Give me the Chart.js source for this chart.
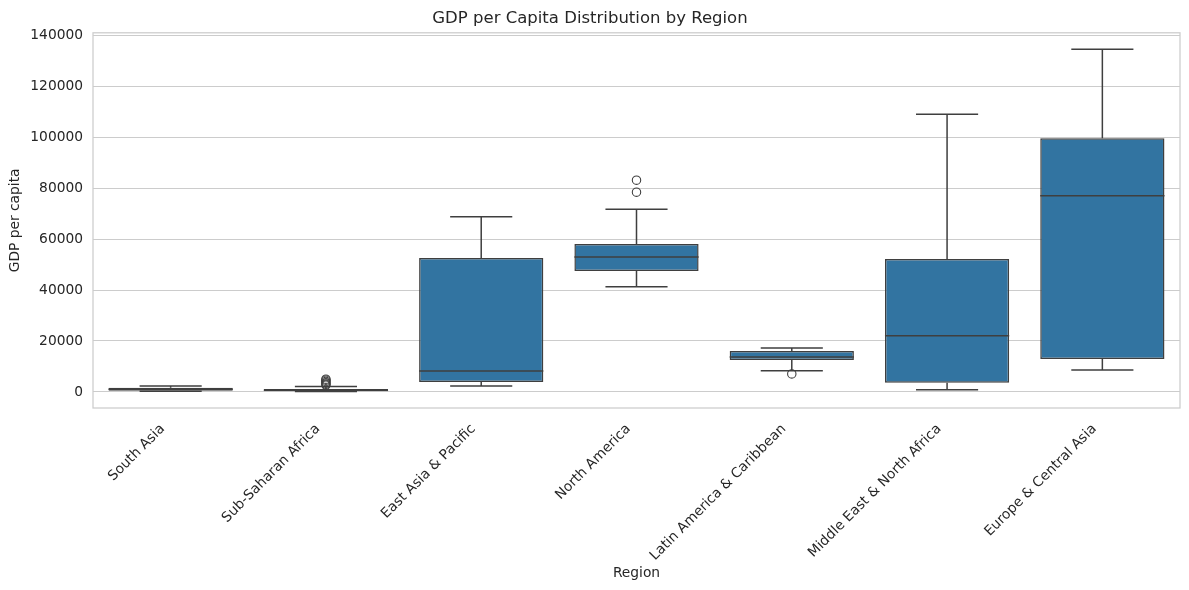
<!DOCTYPE html>
<html>
<head>
<meta charset="utf-8">
<script src="https://cdn.jsdelivr.net/npm/chart.js@4.4.1/dist/chart.umd.min.js"></script>
<style>
html,body{margin:0;padding:0;background:#fff;}
#wrap{width:1189px;height:590px;position:relative;}
</style>
</head>
<body>
<div id="wrap"><canvas id="c" width="1189" height="590"></canvas></div>
<script>
const categories = ["South Asia","Sub-Saharan Africa","East Asia & Pacific","North America","Latin America & Caribbean","Middle East & North Africa","Europe & Central Asia"];
const whiskerLow  = [250, 150, 2350, 41300, 8350, 900, 8630];
const q1          = [450, 300, 3920, 47460, 12550, 3650, 12940];
const median      = [1050, 650, 8240, 52950, 13730, 22080, 77000];
const q3          = [1650, 1200, 52550, 58050, 16080, 52160, 99600];
const whiskerHigh = [2350, 2100, 68750, 71770, 17260, 109000, 134500];
const outlierRegion = ["Sub-Saharan Africa","Sub-Saharan Africa","Sub-Saharan Africa","Sub-Saharan Africa","Sub-Saharan Africa","Sub-Saharan Africa","North America","North America","Latin America & Caribbean"];
const outlierValue  = [5000, 4600, 4100, 3600, 3100, 2700, 83150, 78440, 7060];
const yTicks = [0, 20000, 40000, 60000, 80000, 100000, 120000, 140000];

const FONT = "'DejaVu Sans', sans-serif";
const TEXT = '#262626';
const LINE = '#3f3f3f';
const BOX = '#3274a1';

const boxPlugin = {
  id: 'boxParts',
  beforeDatasetsDraw(chart) {
    const ctx = chart.ctx, y = chart.scales.y;
    const meta = chart.getDatasetMeta(0);
    ctx.save();
    ctx.strokeStyle = LINE;
    ctx.lineWidth = 1.5;
    meta.data.forEach((bar, i) => {
      const x = bar.x, hw = bar.width / 4;
      const yl = y.getPixelForValue(whiskerLow[i]), yh = y.getPixelForValue(whiskerHigh[i]);
      const yq1 = y.getPixelForValue(q1[i]), yq3 = y.getPixelForValue(q3[i]);
      ctx.beginPath();
      ctx.moveTo(x, yq1); ctx.lineTo(x, yl);
      ctx.moveTo(x, yq3); ctx.lineTo(x, yh);
      ctx.moveTo(x - hw, yl); ctx.lineTo(x + hw, yl);
      ctx.moveTo(x - hw, yh); ctx.lineTo(x + hw, yh);
      ctx.stroke();
    });
    ctx.restore();
  },
  afterDatasetDraw(chart, args) {
    if (args.index !== 0) return;
    const ctx = chart.ctx, y = chart.scales.y;
    const meta = chart.getDatasetMeta(0);
    ctx.save();
    ctx.strokeStyle = LINE;
    ctx.lineWidth = 1.5;
    meta.data.forEach((bar, i) => {
      const x = bar.x, hw = bar.width / 2;
      const ym = y.getPixelForValue(median[i]);
      ctx.beginPath();
      ctx.moveTo(x - hw, ym); ctx.lineTo(x + hw, ym);
      ctx.stroke();
    });
    ctx.restore();
  },
  beforeDraw(chart) {
    const ctx = chart.ctx;
    ctx.save();
    ctx.fillStyle = '#fff';
    ctx.fillRect(0, 0, chart.width, chart.height);
    ctx.restore();
  },
  afterDraw(chart) {
    const a = chart.chartArea, ctx = chart.ctx;
    ctx.save();
    ctx.strokeStyle = '#cccccc';
    ctx.lineWidth = 1.25;
    ctx.strokeRect(a.left, a.top, a.right - a.left, a.bottom - a.top);
    ctx.restore();
  }
};

new Chart(document.getElementById('c'), {
  type: 'bar',
  data: {
    labels: categories,
    datasets: [
      {
        type: 'bar',
        data: categories.map((c, i) => [q1[i], q3[i]]),
        backgroundColor: BOX,
        borderColor: LINE,
        borderWidth: 1.5,
        borderSkipped: false,
        barPercentage: 0.8,
        categoryPercentage: 1.0,
        order: 2
      },
      {
        type: 'scatter',
        data: outlierRegion.map((r, i) => ({x: r, y: outlierValue[i]})),
        pointStyle: 'circle',
        pointRadius: 4.2,
        pointBackgroundColor: 'rgba(255,255,255,0)',
        pointBorderColor: LINE,
        pointBorderWidth: 1.1,
        showLine: false,
        order: 1
      }
    ]
  },
  options: {
    responsive: false,
    animation: false,
    devicePixelRatio: 1,
    layout: { padding: { left: 0, right: 9, top: 0, bottom: 0 } },
    plugins: {
      legend: { display: false },
      tooltip: { enabled: false },
      title: {
        display: true,
        text: 'GDP per Capita Distribution by Region',
        color: TEXT,
        font: { family: FONT, size: 16.5, weight: 'normal' },
        padding: { top: 9, bottom: 4 }
      }
    },
    scales: {
      x: {
        type: 'category',
        offset: true,
        grid: { display: false },
        border: { display: false },
        ticks: {
          color: TEXT,
          font: { family: FONT, size: 13.8 },
          minRotation: 45,
          maxRotation: 45,
          padding: 5,
          labelOffset: -8,
          autoSkip: false
        },
        title: {
          display: true,
          text: 'Region',
          color: TEXT,
          font: { family: FONT, size: 13.8 },
          padding: { top: 0, bottom: 8 }
        },
        afterFit(s) { s.height = 182; }
      },
      y: {
        type: 'linear',
        min: -6300,
        max: 141000,
        grid: { color: '#cccccc', lineWidth: 1.1, drawTicks: false },
        border: { display: false },
        afterBuildTicks(s) { s.ticks = yTicks.map(v => ({value: v})); },
        ticks: {
          color: TEXT,
          font: { family: FONT, size: 13.8 },
          padding: 10,
          callback: (v) => String(v)
        },
        title: {
          display: true,
          text: 'GDP per capita',
          color: TEXT,
          font: { family: FONT, size: 13.8 },
          padding: { top: 7, bottom: 0 }
        },
        afterFit(s) { s.width = 93; }
      }
    }
  },
  plugins: [boxPlugin]
});
</script>
</body>
</html>
